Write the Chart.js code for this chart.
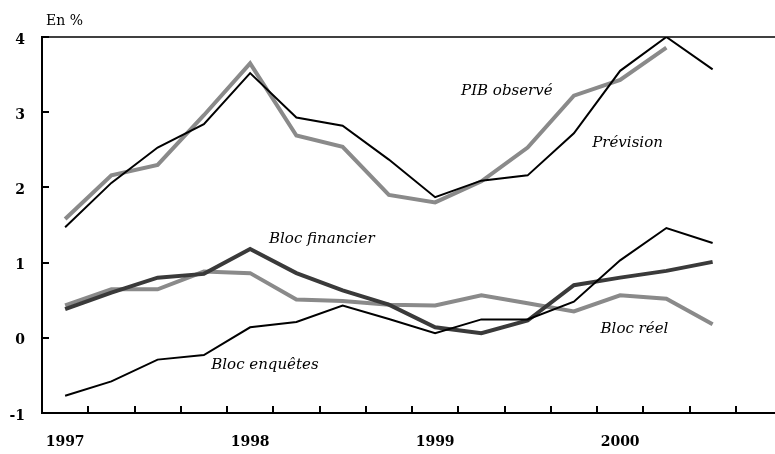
<!DOCTYPE html>
<html>
<head>
<meta charset="utf-8">
<script src="https://cdn.jsdelivr.net/npm/chart.js@4/dist/chart.umd.min.js"></script>
<style>
  body { margin: 0; overflow: hidden; background: #fff; }
  #wrap { width: 784px; height: 454px; }
</style>
</head>
<body>
<div id="wrap"><canvas id="lineChart"></canvas></div>
<script>
// Quarters 1997 Q1 .. 2000 Q4 (last one empty)
const quarters = ["1997", "", "", "", "1998", "", "", "", "1999", "", "", "", "2000", "", "", ""];
const yTicks = [-1, 0, 1, 2, 3, 4];

const pibObserve    = [1.47, 2.06, 2.53, 2.84, 3.52, 2.93, 2.82, 2.37, 1.87, 2.09, 2.16, 2.72, 3.55, 4.00, 3.57];
const prevision     = [1.58, 2.16, 2.30, 2.96, 3.65, 2.69, 2.54, 1.90, 1.80, 2.08, 2.53, 3.22, 3.43, 3.86, null];
const blocFinancier = [0.38, 0.60, 0.80, 0.85, 1.18, 0.86, 0.63, 0.44, 0.14, 0.06, 0.23, 0.70, 0.80, 0.89, 1.01];
const blocReel      = [0.43, 0.645, 0.645, 0.88, 0.86, 0.51, 0.49, 0.44, 0.43, 0.565, 0.46, 0.35, 0.565, 0.52, 0.18];
const blocEnquetes  = [-0.77, -0.58, -0.29, -0.23, 0.14, 0.21, 0.43, 0.25, 0.06, 0.245, 0.245, 0.48, 1.03, 1.46, 1.26];

// Series names written inside the plot: [text, category index, value]
const seriesLabels = [
  ["PIB observé", 9.55, 3.28],
  ["Prévision", 12.16, 2.59],
  ["Bloc financier", 5.55, 1.31],
  ["Bloc enquêtes", 4.32, -0.36],
  ["Bloc réel", 12.31, 0.12]
];

const GREY = "#8a8a8a";
const DARK = "#3a3a3a";

// inward tick marks, top frame line, unit and series labels
const decor = {
  id: "decor",
  afterDraw(chart) {
    const ctx = chart.ctx;
    const x = chart.scales.x, y = chart.scales.y;
    const area = chart.chartArea;
    ctx.save();
    ctx.strokeStyle = "#000";
    ctx.lineWidth = 2;
    ctx.beginPath();
    for (let i = 1; i <= quarters.length; i++) {
      const px = Math.round(x.getPixelForValue(i - 0.5));
      ctx.moveTo(px, area.bottom);
      ctx.lineTo(px, area.bottom - 7);
    }
    yTicks.forEach(v => {
      const py = Math.round(y.getPixelForValue(v));
      ctx.moveTo(area.left, py);
      ctx.lineTo(area.left + 7, py);
    });
    ctx.stroke();

    ctx.lineWidth = 1.5;
    ctx.beginPath();
    ctx.moveTo(area.left, area.top);
    ctx.lineTo(area.right, area.top);
    ctx.stroke();

    ctx.fillStyle = "#000";
    ctx.font = "14px 'DejaVu Serif'";
    ctx.textAlign = "left";
    ctx.textBaseline = "middle";
    ctx.fillText("En %", 46, 21);

    ctx.font = "italic 15px 'DejaVu Serif'";
    ctx.textAlign = "center";
    seriesLabels.forEach(([t, i, v]) => {
      ctx.fillText(t, x.getPixelForValue(i), y.getPixelForValue(v));
    });
    ctx.restore();
  }
};

function series(data, color, width, order) {
  return {
    data: data,
    borderColor: color,
    borderWidth: width,
    pointRadius: 0,
    tension: 0,
    fill: false,
    borderJoinStyle: "miter",
    order: order
  };
}

new Chart(document.getElementById("lineChart"), {
  type: "line",
  data: {
    labels: quarters,
    datasets: [
      series(pibObserve, "#000", 2, 1),
      series(prevision, GREY, 4, 3),
      series(blocFinancier, DARK, 4, 2),
      series(blocReel, GREY, 4, 4),
      series(blocEnquetes, "#000", 2, 1)
    ]
  },
  options: {
    responsive: true,
    maintainAspectRatio: false,
    animation: false,
    layout: { padding: { top: 37, right: 2, left: 0, bottom: 0 } },
    plugins: { legend: { display: false }, tooltip: { enabled: false } },
    scales: {
      x: {
        offset: true,
        grid: { display: true, drawOnChartArea: false, drawTicks: false, offset: true },
        border: { display: true, color: "#000", width: 2 },
        ticks: {
          autoSkip: false,
          maxRotation: 0,
          padding: 21,
          color: "#000",
          font: { family: "'DejaVu Serif'", size: 14, weight: "bold" }
        },
        afterFit(scale) { scale.height = 41; }
      },
      y: {
        min: -1,
        max: 4,
        grid: { display: true, drawOnChartArea: false, drawTicks: false },
        border: { display: true, color: "#000", width: 2 },
        ticks: {
          stepSize: 1,
          padding: 17,
          labelOffset: 3,
          color: "#000",
          font: { family: "'DejaVu Serif'", size: 14, weight: "bold" }
        },
        afterFit(scale) { scale.width = 42; }
      }
    }
  },
  plugins: [decor]
});
</script>
</body>
</html>
